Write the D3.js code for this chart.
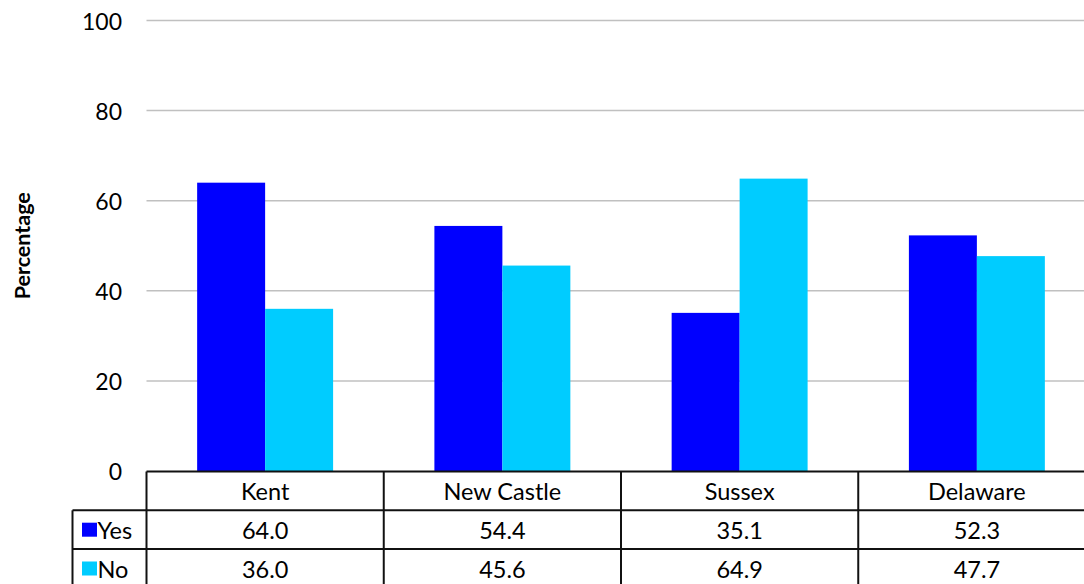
<!DOCTYPE html>
<html>
<head>
<meta charset="utf-8">
<script src="https://cdn.jsdelivr.net/npm/d3@7"></script>
<style>
  html, body { margin: 0; padding: 0; background: #fff; }
  svg { display: block; }
  text { font-family: Lato, "Open Sans", sans-serif; fill: #000; }
</style>
</head>
<body>
<svg id="chart" width="1084" height="584"></svg>
<script>
const categories = ["Kent", "New Castle", "Sussex", "Delaware"];
const seriesNames = ["Yes", "No"];
const yesValues = [64.0, 54.4, 35.1, 52.3];
const noValues = [36.0, 45.6, 64.9, 47.7];
const yTicks = [0, 20, 40, 60, 80, 100];
const colors = ["#0000FF", "#00CCFF"];
const seriesValues = [yesValues, noValues];

const svg = d3.select("#chart");
const plotLeft = 146.5, plotRight = 1095.5;
const plotTop = 20.5, plotBottom = 471;
const legendLeft = 72.5;
const rowH = 38.8;
const headerTop = 471.5;
const tableFont = "23.5px";

const x = d3.scaleBand().domain(categories).range([plotLeft, plotRight]).paddingInner(0).paddingOuter(0);
const xs = d3.scaleBand().domain(seriesNames).range([0, x.bandwidth()]).paddingInner(0).paddingOuter(0.745);
const y = d3.scaleLinear().domain([0, 100]).range([plotBottom, plotTop]);

// gridlines
svg.append("g").selectAll("line").data(yTicks.filter(d => d > 0)).join("line")
  .attr("x1", plotLeft).attr("x2", plotRight)
  .attr("y1", d => y(d)).attr("y2", d => y(d))
  .attr("stroke", "#c0c0c0").attr("stroke-width", 1.5);

// y tick labels
svg.append("g").selectAll("text").data(yTicks).join("text")
  .attr("x", 122).attr("y", d => y(d))
  .attr("text-anchor", "end").attr("dominant-baseline", "central")
  .style("font-size", "23px")
  .text(d => d);

// y axis title
svg.append("text")
  .attr("transform", `translate(22,${(plotTop + plotBottom) / 2}) rotate(-90)`)
  .attr("text-anchor", "middle").attr("dominant-baseline", "central")
  .style("font-size", "21.5px").style("font-weight", "bold")
  .text("Percentage");

// bars
seriesNames.forEach((s, si) => {
  svg.append("g").selectAll("rect").data(categories).join("rect")
    .attr("x", c => x(c) + xs(s))
    .attr("width", xs.bandwidth())
    .attr("y", (c, i) => y(seriesValues[si][i]))
    .attr("height", (c, i) => plotBottom - y(seriesValues[si][i]))
    .attr("fill", colors[si]);
});

// data table
const t = svg.append("g");
const lineColor = "#111";
t.append("line").attr("x1", plotLeft).attr("x2", plotRight).attr("y1", headerTop).attr("y2", headerTop)
  .attr("stroke", lineColor).attr("stroke-width", 2);
[1, 2, 3].forEach(r => {
  const yy = headerTop + r * rowH;
  t.append("line").attr("x1", legendLeft).attr("x2", plotRight).attr("y1", yy).attr("y2", yy)
    .attr("stroke", lineColor).attr("stroke-width", 2);
});
categories.forEach(c => {
  t.append("line").attr("x1", x(c)).attr("x2", x(c)).attr("y1", headerTop).attr("y2", headerTop + 3 * rowH)
    .attr("stroke", lineColor).attr("stroke-width", 2);
});
t.append("line").attr("x1", plotRight).attr("x2", plotRight).attr("y1", headerTop).attr("y2", headerTop + 3 * rowH)
  .attr("stroke", lineColor).attr("stroke-width", 2);
t.append("line").attr("x1", legendLeft).attr("x2", legendLeft).attr("y1", headerTop + rowH).attr("y2", headerTop + 3 * rowH)
  .attr("stroke", lineColor).attr("stroke-width", 2);

t.selectAll("text.cat").data(categories).join("text").attr("class", "cat")
  .attr("x", c => x(c) + x.bandwidth() / 2).attr("y", headerTop + rowH / 2)
  .attr("text-anchor", "middle").attr("dominant-baseline", "central")
  .style("font-size", tableFont).text(c => c);

seriesNames.forEach((s, si) => {
  const cy = headerTop + (si + 1) * rowH + rowH / 2;
  t.append("rect").attr("x", 82).attr("y", cy - 7).attr("width", 15).attr("height", 14).attr("fill", colors[si]);
  t.append("text").attr("x", 97.5).attr("y", cy).attr("dominant-baseline", "central")
    .style("font-size", tableFont).text(s);
  t.append("g").selectAll("text").data(categories).join("text")
    .attr("x", c => x(c) + x.bandwidth() / 2).attr("y", cy)
    .attr("text-anchor", "middle").attr("dominant-baseline", "central")
    .style("font-size", tableFont)
    .text((c, i) => seriesValues[si][i].toFixed(1));
});
</script>
</body>
</html>
